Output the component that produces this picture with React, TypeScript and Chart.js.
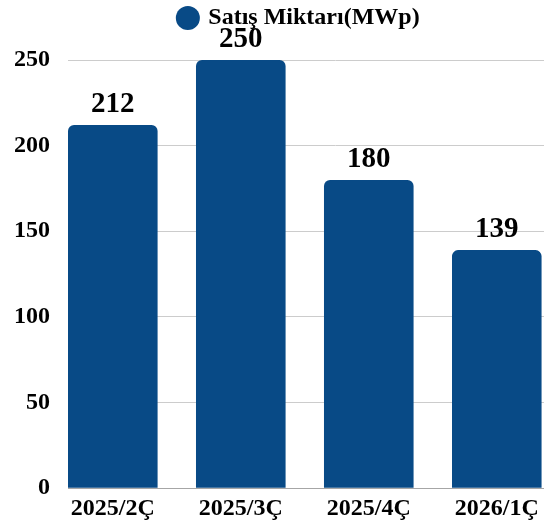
import React, { useEffect, useRef } from "react";
import { Chart, registerables } from "chart.js";

Chart.register(...registerables);

const categories: string[] = ["2025/2Ç", "2025/3Ç", "2025/4Ç", "2026/1Ç"];
const salesValues: number[] = [212, 250, 180, 139];
const seriesLabel = "Satış Miktarı(MWp)";
const yTickMin = 0;
const yTickMax = 250;
const yTickStep = 50;

const FONT = "'Liberation Serif', 'Times New Roman', serif";
const BAR_COLOR = "#084a86";

const valueLabelPlugin = {
  id: "valueLabels",
  afterDatasetsDraw(chart: any) {
    const ctx = chart.ctx;
    const meta = chart.getDatasetMeta(0);
    ctx.save();
    ctx.font = `bold 29px ${FONT}`;
    ctx.fillStyle = "#000000";
    ctx.textAlign = "center";
    ctx.textBaseline = "alphabetic";
    meta.data.forEach((bar: any, i: number) => {
      ctx.fillText(String(salesValues[i]), bar.x, bar.y - 13);
    });
    ctx.restore();
  },
};

export default function App() {
  const ref = useRef<HTMLCanvasElement | null>(null);

  useEffect(() => {
    if (!ref.current) return;
    const chart = new Chart(ref.current, {
      type: "bar",
      data: {
        datasets: [
          {
            label: seriesLabel,
            data: categories.map((_, i) => ({ x: i, y: salesValues[i] })),
            backgroundColor: BAR_COLOR,
            borderWidth: 0,
            borderRadius: { topLeft: 6, topRight: 6, bottomLeft: 0, bottomRight: 0 },
            borderSkipped: false,
            categoryPercentage: 1,
            barPercentage: 0.7,
          } as any,
        ],
      },
      options: {
        responsive: false,
        animation: false,
        layout: { padding: { left: -4, right: 0, top: 0, bottom: -2 } },
        plugins: {
          legend: {
            display: true,
            position: "top",
            labels: {
              usePointStyle: true,
              pointStyle: "circle",
              boxWidth: 17,
              boxHeight: 17,
              padding: 6,
              color: "#000000",
              font: { family: FONT, size: 24, weight: "bold" },
            },
          },
          subtitle: {
            display: true,
            text: "",
            position: "top",
            weight: 100,
            font: { size: 10 },
            padding: { top: 0, bottom: 8 },
          },
          tooltip: { enabled: false },
        },
        scales: {
          x: {
            type: "linear",
            offset: false,
            min: -0.35,
            max: 3.83,
            grid: { display: false, drawTicks: false, offset: false },
            border: { display: true, color: "#a6a6a6", width: 1 },
            ticks: {
              stepSize: 1,
              includeBounds: false,
              autoSkip: false,
              maxRotation: 0,
              padding: 6,
              color: "#000000",
              font: { family: FONT, size: 24, weight: "bold" },
              callback: (v: any) => {
                const n = Number(v);
                return Number.isInteger(n) && categories[n] !== undefined ? categories[n] : "";
              },
            },
          },
          y: {
            min: yTickMin,
            max: yTickMax,
            grid: { color: "#cccccc", lineWidth: 1, drawTicks: false },
            border: { display: false },
            ticks: {
              stepSize: yTickStep,
              padding: 18,
              color: "#000000",
              font: { family: FONT, size: 24, weight: "bold" },
            },
          },
        },
      },
      plugins: [valueLabelPlugin],
    } as any);
    return () => chart.destroy();
  }, []);

  return (
    <div
      style={{
        position: "fixed",
        left: 0,
        top: 0,
        width: 544,
        height: 527,
        overflow: "hidden",
        background: "#ffffff",
      }}
    >
      <canvas ref={ref} width={603} height={527} style={{ display: "block" }} />
    </div>
  );
}
